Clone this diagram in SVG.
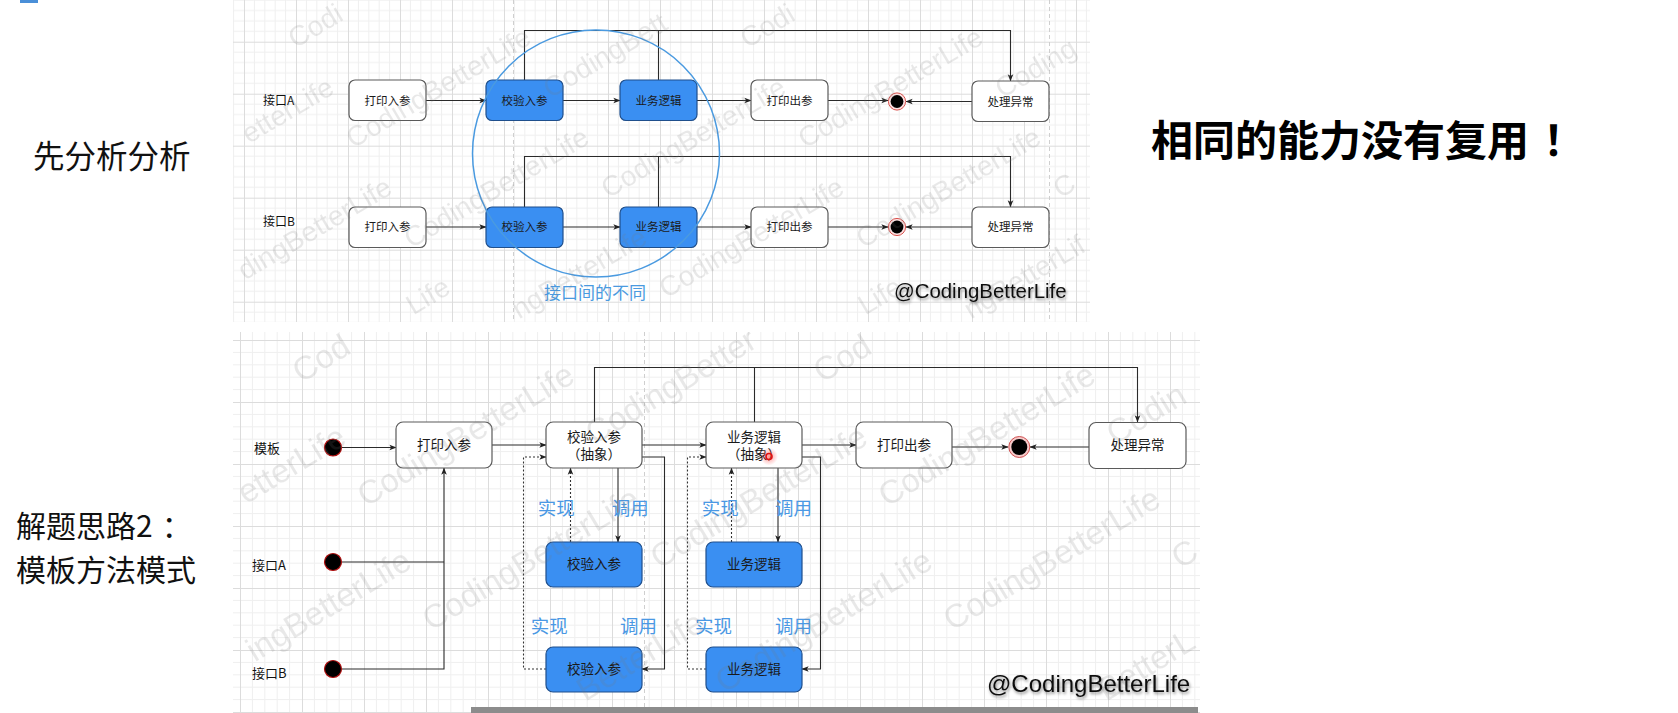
<svg xmlns="http://www.w3.org/2000/svg" width="1678" height="713" viewBox="0 0 1678 713">
<style>
.cn{font-family:"Noto Sans CJK SC","Noto Sans",sans-serif}
.bt{font-size:11.5px;fill:#1a1a1a;text-anchor:middle}
.bb{font-size:13.5px;fill:#1a1a1a;text-anchor:middle}
.lbl{font-size:12px;fill:#111}
.lbl2{font-size:13px;fill:#111}
.wb{fill:#fff;stroke:#5a5a5a;stroke-width:1.2}
.bl{fill:#3a8ff2;stroke:#1f4f8c;stroke-width:1.2}
.ln{fill:none;stroke:#2a2a2a;stroke-width:1.1}
.dt{fill:none;stroke:#333;stroke-width:1.1;stroke-dasharray:2 2}
.blue{fill:#4a98e4;font-size:18.5px}
.wm{font-family:"Liberation Sans",Arial,sans-serif;fill:#777;opacity:.16}
.wt{font-size:28px}
.wbm{font-size:33px}
.pg{fill:none;stroke:#cfcfcf;stroke-width:1;stroke-dasharray:4 3}
.sig{font-family:"Liberation Sans",Arial,sans-serif;fill:#111}
</style>
<defs>
<pattern id="gridT" patternUnits="userSpaceOnUse" x="244" y="41.7" width="52" height="52">
<path d="M10.4,0V52M20.8,0V52M31.2,0V52M41.6,0V52M0,10.4H52M0,20.8H52M0,31.2H52M0,41.6H52" stroke="#efefef" stroke-width="1" fill="none"/>
<path d="M0.5,0V52M0,0.5H52" stroke="#dcdcdc" stroke-width="1" fill="none"/>
</pattern>
<pattern id="gridB" patternUnits="userSpaceOnUse" x="240" y="340" width="62" height="62">
<path d="M12.4,0V62M24.8,0V62M37.2,0V62M49.6,0V62M0,12.4H62M0,24.8H62M0,37.2H62M0,49.6H62" stroke="#efefef" stroke-width="1" fill="none"/>
<path d="M0.5,0V62M0,0.5H62" stroke="#dcdcdc" stroke-width="1" fill="none"/>
</pattern>
<clipPath id="cT"><rect x="233" y="0" width="857" height="322"/></clipPath>
<clipPath id="cB"><rect x="233" y="332" width="967" height="381"/></clipPath>
<marker id="ah" viewBox="0 0 10 10" refX="9.5" refY="5" markerWidth="7" markerHeight="7" markerUnits="userSpaceOnUse" orient="auto">
<path d="M0,1 L10,5 L0,9 L2.5,5 z" fill="#222"/>
</marker>
<filter id="sh" x="-10%" y="-30%" width="120%" height="180%">
<feDropShadow dx="1" dy="2" stdDeviation="1.6" flood-color="#000" flood-opacity="0.45"/>
</filter>
<radialGradient id="glow"><stop offset="0" stop-color="#ff3030" stop-opacity="0.5"/><stop offset="1" stop-color="#ff3030" stop-opacity="0"/></radialGradient>
</defs>

<rect width="1678" height="713" fill="#fff"/>
<rect x="20" y="0" width="18" height="3" fill="#4a8fd8"/>

<!-- left / right captions -->
<g id="caption-analyze"><text class="cn" x="33" y="168" font-size="31.5" fill="#111">先分析分析</text></g>
<g id="caption-solution">
<text class="cn" x="16" y="536.5" font-size="30" fill="#111">解题思路2<tspan dx="9">：</tspan></text>
<text class="cn" x="16" y="580.5" font-size="30" fill="#111">模板方法模式</text>
</g>
<g id="caption-noreuse"><text class="cn" x="1151" y="156" font-size="42" font-weight="bold" fill="#000">相同的能力没有复用<tspan dx="14">！</tspan></text></g>

<!-- ===== TOP PANEL ===== -->
<g id="panel-top">
<rect x="233" y="0" width="857" height="322" fill="#fff"/>
<rect x="233" y="0" width="857" height="322" fill="url(#gridT)"/>
<path class="pg" d="M513.5,0V322M1049.5,0V322"/>
</g>

<g id="connectors-top">
<path class="ln" d="M426,100.5H486" marker-end="url(#ah)"/>
<path class="ln" d="M563,100.5H620" marker-end="url(#ah)"/>
<path class="ln" d="M697,100.5H751" marker-end="url(#ah)"/>
<path class="ln" d="M828,100.5H888" marker-end="url(#ah)"/>
<path class="ln" d="M972,101.5H906" marker-end="url(#ah)"/>
<path class="ln" d="M524.5,80V30.5H1010.5V81" marker-end="url(#ah)"/>
<path class="ln" d="M658.5,80V30.5"/>
<path class="ln" d="M426,227H486" marker-end="url(#ah)"/>
<path class="ln" d="M563,227H620" marker-end="url(#ah)"/>
<path class="ln" d="M697,227H751" marker-end="url(#ah)"/>
<path class="ln" d="M828,227H888" marker-end="url(#ah)"/>
<path class="ln" d="M972,227H906" marker-end="url(#ah)"/>
<path class="ln" d="M524.5,207V156.5H1010.5V207" marker-end="url(#ah)"/>
<path class="ln" d="M658.5,207V156.5"/>
</g>

<g id="tA-label"><text class="cn lbl" x="263" y="104.5">接口A</text></g>
<g id="tA-print"><rect class="wb" x="349" y="80" width="77" height="40.5" rx="6"/><text class="cn bt" x="387.5" y="104.6">打印入参</text></g>
<g id="tA-check"><rect class="bl" x="486" y="80" width="77" height="40.5" rx="6"/><text class="cn bt" x="524.5" y="104.6">校验入参</text></g>
<g id="tA-biz"><rect class="bl" x="620" y="80" width="77" height="40.5" rx="6"/><text class="cn bt" x="658.5" y="104.6">业务逻辑</text></g>
<g id="tA-out"><rect class="wb" x="751" y="80" width="77" height="40.5" rx="6"/><text class="cn bt" x="789.5" y="104.6">打印出参</text></g>
<g id="tA-end"><circle cx="897" cy="101.5" r="8.6" fill="#fbe0e0" stroke="#d9534f" stroke-width="1"/><circle cx="897" cy="101.5" r="6.4" fill="#000"/></g>
<g id="tA-exc"><rect class="wb" x="972" y="81" width="77" height="40.5" rx="6"/><text class="cn bt" x="1010.5" y="105.6">处理异常</text></g>

<g id="tB-label"><text class="cn lbl" x="263" y="226">接口B</text></g>
<g id="tB-print"><rect class="wb" x="349" y="207" width="77" height="40.5" rx="6"/><text class="cn bt" x="387.5" y="231.2">打印入参</text></g>
<g id="tB-check"><rect class="bl" x="486" y="207" width="77" height="40.5" rx="6"/><text class="cn bt" x="524.5" y="231.2">校验入参</text></g>
<g id="tB-biz"><rect class="bl" x="620" y="207" width="77" height="40.5" rx="6"/><text class="cn bt" x="658.5" y="231.2">业务逻辑</text></g>
<g id="tB-out"><rect class="wb" x="751" y="207" width="77" height="40.5" rx="6"/><text class="cn bt" x="789.5" y="231.2">打印出参</text></g>
<g id="tB-end"><circle cx="897" cy="227" r="8.6" fill="#fbe0e0" stroke="#d9534f" stroke-width="1"/><circle cx="897" cy="227" r="6.4" fill="#000"/></g>
<g id="tB-exc"><rect class="wb" x="972" y="207" width="77" height="40.5" rx="6"/><text class="cn bt" x="1010.5" y="231.2">处理异常</text></g>

<g id="diff-circle">
<circle cx="596" cy="153.5" r="123.5" fill="none" stroke="#4a9ae0" stroke-width="1.5"/>
<text class="cn" x="595" y="299" font-size="17" fill="#4a9ae0" text-anchor="middle">接口间的不同</text>
</g>

<g id="wm-top" clip-path="url(#cT)">
<text class="wm wt" transform="translate(295.3 48.7) rotate(-30.6)">Codi</text>
<text class="wm wt" transform="translate(747.3 48.7) rotate(-30.6)">Codi</text>
<text class="wm wt" transform="translate(550.3 98.7) rotate(-30.6)">CodingBett</text>
<text class="wm wt" transform="translate(1002.3 98.7) rotate(-30.6)">Coding</text>
<text class="wm wt" transform="translate(353.3 148.7) rotate(-30.6)">CodingBetterLife</text>
<text class="wm wt" transform="translate(805.3 148.7) rotate(-30.6)">CodingBetterLife</text>
<text class="wm wt" transform="translate(248.9 144) rotate(-30.6)">etterLife</text>
<text class="wm wt" transform="translate(608.3 198.7) rotate(-30.6)">CodingBetterLife</text>
<text class="wm wt" transform="translate(1060.3 198.7) rotate(-30.6)">C</text>
<text class="wm wt" transform="translate(411.3 248.7) rotate(-30.6)">CodingBetterLife</text>
<text class="wm wt" transform="translate(863.3 248.7) rotate(-30.6)">CodingBetterLife</text>
<text class="wm wt" transform="translate(245.1 280.5) rotate(-30.6)">dingBetterLife</text>
<text class="wm wt" transform="translate(666.3 298.7) rotate(-30.6)">CodingBetterLife</text>
<text class="wm wt" transform="translate(518.9 319.4) rotate(-30.6)">ngBetterLife</text>
<text class="wm wt" transform="translate(970.9 319.4) rotate(-30.6)">ngBetterLif</text>
<text class="wm wt" transform="translate(413.2 315.4) rotate(-30.6)">Life</text>
<text class="wm wt" transform="translate(865.2 315.4) rotate(-30.6)">Life</text>
</g>
<g id="sig-top"><text class="sig" x="894" y="298" font-size="20.4" filter="url(#sh)">@CodingBetterLife</text></g>

<!-- ===== BOTTOM PANEL ===== -->
<g id="panel-bottom">
<rect x="233" y="332" width="967" height="381" fill="#fff"/>
<rect x="233" y="332" width="967" height="381" fill="url(#gridB)"/>
<path class="pg" d="M644.5,332V713"/>
</g>

<g id="connectors-bottom">
<path class="ln" d="M342,447.5H396" marker-end="url(#ah)"/>
<path class="ln" d="M342,562H444"/>
<path class="ln" d="M342,669H444V468" marker-end="url(#ah)"/>
<path class="ln" d="M492,445H546" marker-end="url(#ah)"/>
<path class="ln" d="M642,445H706" marker-end="url(#ah)"/>
<path class="ln" d="M802,445H856" marker-end="url(#ah)"/>
<path class="ln" d="M952,447H1008" marker-end="url(#ah)"/>
<path class="ln" d="M1089,447H1030" marker-end="url(#ah)"/>
<path class="ln" d="M594.5,422V367.5H1137.5V422" marker-end="url(#ah)"/>
<path class="ln" d="M754.5,422V367.5"/>
<path class="dt" d="M546,669H523.5V457H546" marker-end="url(#ah)"/>
<path class="dt" d="M570.5,542V468" marker-end="url(#ah)"/>
<path class="ln" d="M618,468V542" marker-end="url(#ah)"/>
<path class="ln" d="M642,457H664.5V669H642" marker-end="url(#ah)"/>
<path class="dt" d="M706,669H687.5V457H706" marker-end="url(#ah)"/>
<path class="dt" d="M731.5,542V468" marker-end="url(#ah)"/>
<path class="ln" d="M778,468V542" marker-end="url(#ah)"/>
<path class="ln" d="M802,457H820.5V669H802" marker-end="url(#ah)"/>
</g>

<g id="b-tpl-label"><text class="cn lbl2" x="254" y="452.5">模板</text></g>
<g id="b-tpl-start"><circle cx="333" cy="447.5" r="8.5" fill="#000" stroke="#b01010" stroke-width="1.2"/></g>
<g id="b-a-label"><text class="cn lbl2" x="252" y="569.7">接口A</text></g>
<g id="b-a-start"><circle cx="333" cy="562" r="8.5" fill="#000" stroke="#b01010" stroke-width="1.2"/></g>
<g id="b-b-label"><text class="cn lbl2" x="252" y="677.7">接口B</text></g>
<g id="b-b-start"><circle cx="333" cy="669" r="8.5" fill="#000" stroke="#b01010" stroke-width="1.2"/></g>

<g id="b-print"><rect class="wb" x="396" y="422" width="96" height="46" rx="7"/><text class="cn bb" x="444" y="449.8">打印入参</text></g>
<g id="b-check-abs"><rect class="wb" x="546" y="422" width="96" height="46" rx="7"/><text class="cn bb" x="594" y="442">校验入参</text><text class="cn bb" x="594" y="458.7">（抽象）</text></g>
<g id="b-biz-abs"><rect class="wb" x="706" y="422" width="96" height="46" rx="7"/><text class="cn bb" x="754" y="442">业务逻辑</text><text class="cn bb" x="754" y="458.7">（抽象）</text></g>
<g id="b-out"><rect class="wb" x="856" y="422" width="96" height="46" rx="7"/><text class="cn bb" x="904" y="449.8">打印出参</text></g>
<g id="b-end"><circle cx="1019.3" cy="447" r="10.5" fill="#f6caca" stroke="#d05050" stroke-width="1"/><circle cx="1019.3" cy="447" r="8" fill="#000"/></g>
<g id="b-exc"><rect class="wb" x="1089" y="422.5" width="97" height="46" rx="7"/><text class="cn bb" x="1137.5" y="450.3">处理异常</text></g>

<g id="b-check-a"><rect class="bl" x="546" y="542" width="96" height="45" rx="7"/><text class="cn bb" x="594" y="569.3">校验入参</text></g>
<g id="b-biz-a"><rect class="bl" x="706" y="542" width="96" height="45" rx="7"/><text class="cn bb" x="754" y="569.3">业务逻辑</text></g>
<g id="b-check-b"><rect class="bl" x="546" y="647" width="96" height="45" rx="7"/><text class="cn bb" x="594" y="674.3">校验入参</text></g>
<g id="b-biz-b"><rect class="bl" x="706" y="647" width="96" height="45" rx="7"/><text class="cn bb" x="754" y="674.3">业务逻辑</text></g>

<g id="edge-labels">
<text class="cn blue" x="537.7" y="514.6">实现</text>
<text class="cn blue" x="611.7" y="514.6">调用</text>
<text class="cn blue" x="530.7" y="632.6">实现</text>
<text class="cn blue" x="620" y="632.6">调用</text>
<text class="cn blue" x="701.7" y="514.6">实现</text>
<text class="cn blue" x="775" y="514.6">调用</text>
<text class="cn blue" x="695" y="632.6">实现</text>
<text class="cn blue" x="775" y="632.6">调用</text>
</g>

<g id="pointer">
<circle cx="769" cy="456.5" r="9" fill="url(#glow)"/>
<circle cx="769" cy="456.5" r="3" fill="none" stroke="#e01010" stroke-width="1.6"/>
</g>

<g id="wm-bottom" clip-path="url(#cB)">
<text class="wm wbm" transform="translate(300.9 383.6) rotate(-31)">Cod</text>
<text class="wm wbm" transform="translate(821.9 383.6) rotate(-31)">Cod</text>
<text class="wm wbm" transform="translate(593.9 445.6) rotate(-31)">CodingBetter</text>
<text class="wm wbm" transform="translate(1114.9 445.6) rotate(-31)">Codin</text>
<text class="wm wbm" transform="translate(365.9 507.6) rotate(-31)">CodingBetterLife</text>
<text class="wm wbm" transform="translate(886.9 507.6) rotate(-31)">CodingBetterLife</text>
<text class="wm wbm" transform="translate(246.1 504.6) rotate(-31)">etterLife</text>
<text class="wm wbm" transform="translate(658.9 569.6) rotate(-31)">CodingBetterLife</text>
<text class="wm wbm" transform="translate(1179.9 569.6) rotate(-31)">C</text>
<text class="wm wbm" transform="translate(430.9 631.6) rotate(-31)">CodingBetterLife</text>
<text class="wm wbm" transform="translate(951.9 631.6) rotate(-31)">CodingBetterLife</text>
<text class="wm wbm" transform="translate(254.7 662.5) rotate(-31)">ingBetterLife</text>
<text class="wm wbm" transform="translate(723.9 693.6) rotate(-31)">CodingBetterLife</text>
<text class="wm wbm" transform="translate(585.3 701.9) rotate(-31)">BetterLife</text>
<text class="wm wbm" transform="translate(1106.3 701.9) rotate(-31)">BetterL</text>
</g>
<g id="sig-bottom"><text class="sig" x="987" y="691.5" font-size="24" filter="url(#sh)">@CodingBetterLife</text></g>
<rect x="471" y="707" width="727" height="6" fill="#8c8c8c"/>
</svg>
